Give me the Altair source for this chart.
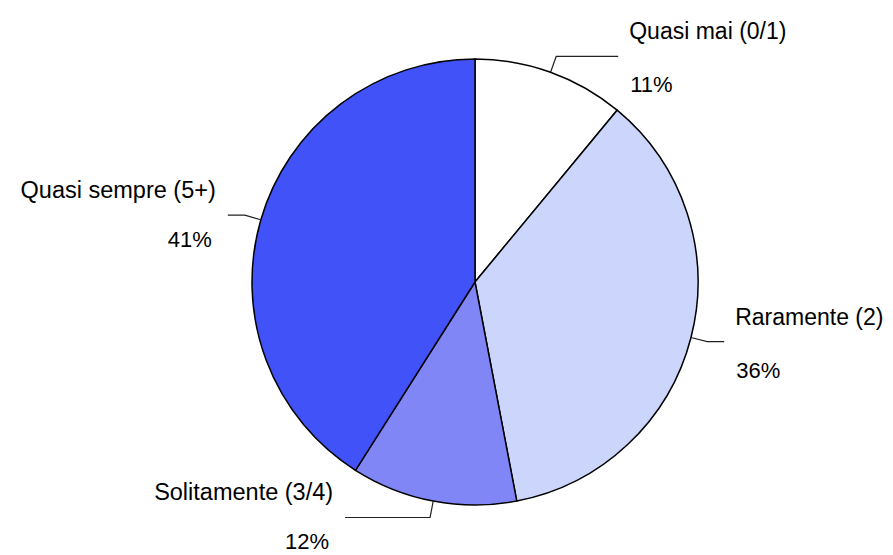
import math
import altair as alt
import pandas as pd

# ---- data ----
categories = ["Quasi mai (0/1)", "Raramente (2)", "Solitamente (3/4)", "Quasi sempre (5+)"]
percent_values = [11, 36, 12, 41]
slice_colors = ["#ffffff", "#ccd6fc", "#8086f6", "#4052f8"]

# ---- layout / style ----
W, H = 877, 547
CX, CY, R = 467, 274, 223
ELBOW = 1.075
HLEN = [62, 17, 85, 17]  # horizontal leader length in px per label
NAME_FONT = "Liberation Sans, Arial, sans-serif"
PCT_FONT = "Liberation Sans, Arial, sans-serif"

total = sum(percent_values)
lines = []
labels = []
cum = 0
for i, (c, v) in enumerate(zip(categories, percent_values)):
    mid = 2 * math.pi * (cum + v / 2) / total
    cum += v
    ux, uy = math.sin(mid), math.cos(mid)
    side = 1 if ux > 0 else -1
    ex, ey = ux * ELBOW, uy * ELBOW
    endx = ex + side * HLEN[i] / R
    for k, (px, py) in enumerate([(ux, uy), (ex, ey), (endx, ey)]):
        lines.append({"cat": c, "k": k, "u": px, "v": py})
    labels.append({"cat": c, "pct": f"{v}%", "u": endx, "v": ey,
                   "side": "right" if side > 0 else "left"})

pie_df = pd.DataFrame({"cat": categories, "value": percent_values,
                       "idx": list(range(len(categories)))})
lines_df = pd.DataFrame(lines)
labels_df = pd.DataFrame(labels)

xs = alt.Scale(domain=[-CX / R, (W - CX) / R], nice=False, zero=False)
ys = alt.Scale(domain=[(CY - H) / R, CY / R], nice=False, zero=False)

pie = alt.Chart(pie_df).mark_arc(outerRadius=R, stroke="black", strokeWidth=1.5).encode(
    theta=alt.Theta("value:Q", stack=True),
    order=alt.Order("idx:Q"),
    color=alt.Color("cat:N", scale=alt.Scale(domain=categories, range=slice_colors), legend=None),
    x=alt.value(CX),
    y=alt.value(CY),
)

leaders = alt.Chart(lines_df).mark_line(color="#222222", strokeWidth=1.2).encode(
    x=alt.X("u:Q", scale=xs, axis=None),
    y=alt.Y("v:Q", scale=ys, axis=None),
    detail="cat:N",
    order="k:Q",
)

base = alt.Chart(labels_df).encode(
    x=alt.X("u:Q", scale=xs, axis=None),
    y=alt.Y("v:Q", scale=ys, axis=None),
)

names_r = base.transform_filter(alt.datum.side == "right").mark_text(
    align="left", baseline="alphabetic", dx=11, dy=-17, fontSize=23, font=NAME_FONT, color="black"
).encode(text="cat:N")
names_l = base.transform_filter(alt.datum.side == "left").mark_text(
    align="right", baseline="alphabetic", dx=-12, dy=-17, fontSize=23.5, font=NAME_FONT, color="black"
).encode(text="cat:N")
pct_r = base.transform_filter(alt.datum.side == "right").mark_text(
    align="left", baseline="alphabetic", dx=12, dy=36, fontSize=22, font=PCT_FONT, color="black"
).encode(text="pct:N")
pct_l = base.transform_filter(alt.datum.side == "left").mark_text(
    align="right", baseline="alphabetic", dx=-16, dy=32, fontSize=22, font=PCT_FONT, color="black"
).encode(text="pct:N")

chart = alt.layer(pie, leaders, names_r, names_l, pct_r, pct_l).properties(
    width=W, height=H, autosize=alt.AutoSizeParams(type="none"), padding=0
).configure_view(stroke=None)

chart.save("out.html", embed_options={"renderer": "svg", "actions": False})
